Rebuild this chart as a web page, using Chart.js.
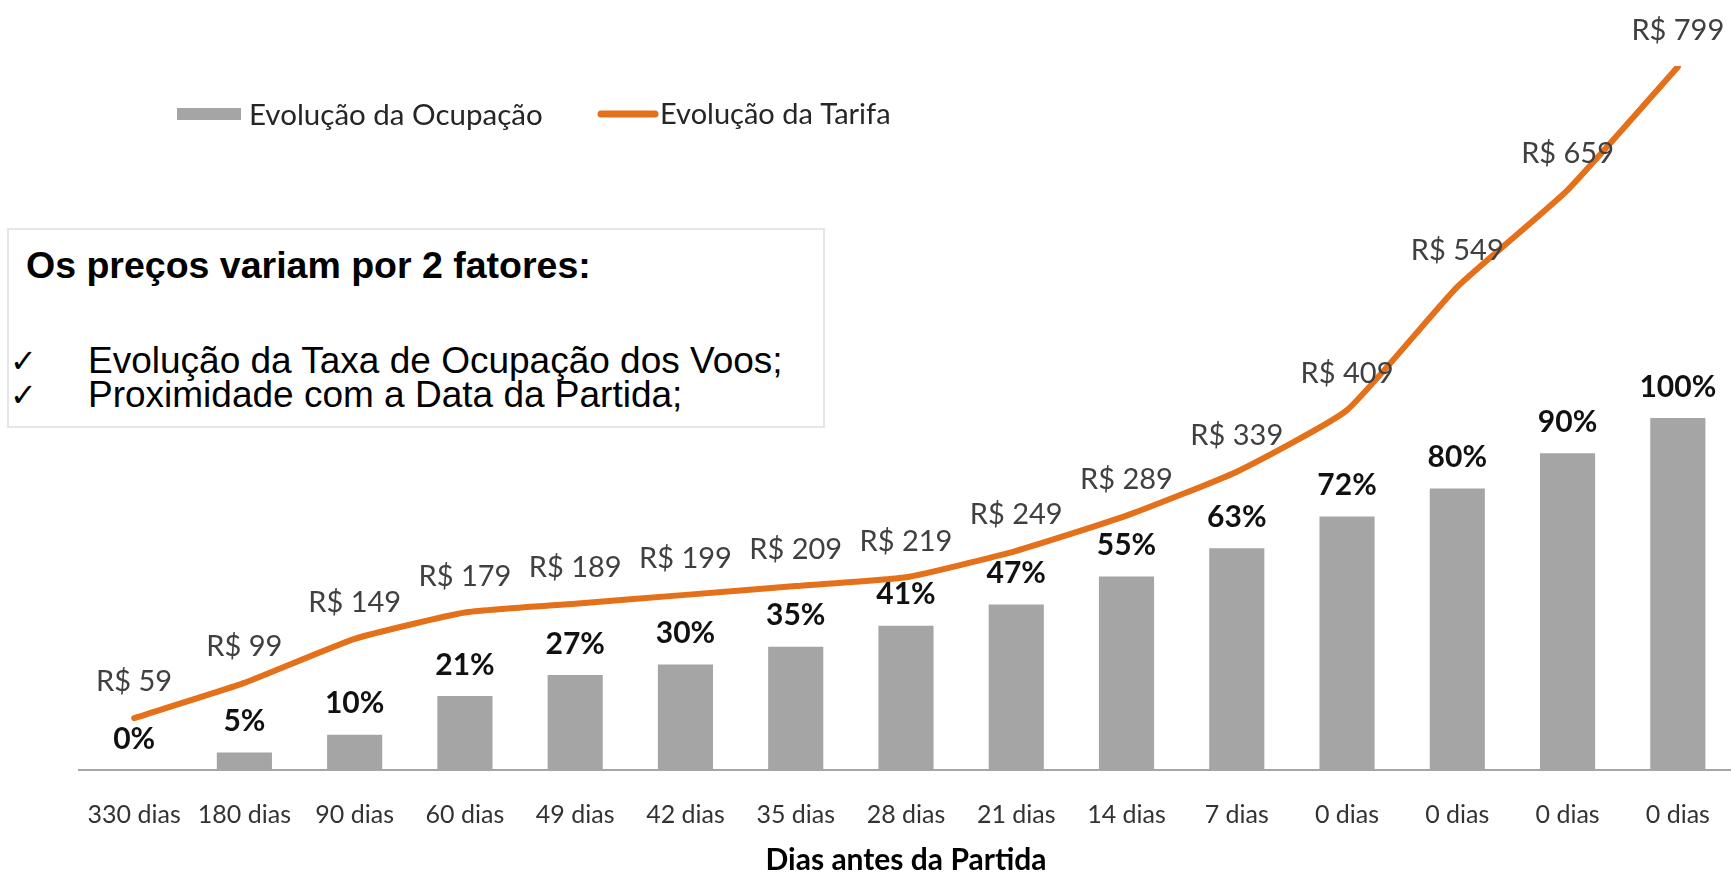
<!DOCTYPE html>
<html>
<head>
<meta charset="utf-8">
<script src="https://cdn.jsdelivr.net/npm/chart.js@4/dist/chart.umd.min.js"></script>
<style>
  html, body { margin: 0; padding: 0; background: #fff; overflow: hidden; width: 1731px; height: 875px; }
  #wrap { position: absolute; left: 0; top: 0; width: 1740px; height: 875px; }
  #note { position: absolute; left: 7px; top: 228px; width: 818px; height: 200px; box-sizing: border-box;
          border: 2px solid #e6e6e6; background: #fff; font-family: "Liberation Sans", Arial, sans-serif; color: #000; }
  #note .t { position: absolute; left: 17px; top: 17px; font-size: 37.5px; line-height: 1; font-weight: bold; white-space: nowrap; }
  #note .b { position: absolute; left: 79px; font-size: 37px; line-height: 1; white-space: nowrap; }
  #note .c { position: absolute; left: 1px; font-size: 32px; line-height: 1; font-family: "DejaVu Sans", sans-serif; }
</style>
</head>
<body>
<div id="wrap"><canvas id="c"></canvas></div>
<div id="note">
  <div class="t">Os preços variam por 2 fatores:</div>
  <div class="c" style="top:115px">✓</div>
  <div class="b" style="top:112px">Evolução da Taxa de Ocupação dos Voos;</div>
  <div class="c" style="top:149px">✓</div>
  <div class="b" style="top:146px">Proximidade com a Data da Partida;</div>
</div>
<script>
const categories = ["330 dias", "180 dias", "90 dias", "60 dias", "49 dias", "42 dias", "35 dias", "28 dias",
                    "21 dias", "14 dias", "7 dias", "0 dias", "0 dias", "0 dias", "0 dias"];
const occupancy = [0, 5, 10, 21, 27, 30, 35, 41, 47, 55, 63, 72, 80, 90, 100];
const fares = [59, 99, 149, 179, 189, 199, 209, 219, 249, 289, 339, 409, 549, 659, 799];
const occupancyLabel = "Evolução da Ocupação";
const fareLabel = "Evolução da Tarifa";
const axisTitle = "Dias antes da Partida";

const BAR_COLOR = "#A5A5A5";
const LINE_COLOR = "#E5701A";

const valueLabels = {
  id: "valueLabels",
  afterDatasetsDraw(chart) {
    const ctx = chart.ctx;
    ctx.save();
    chart.data.datasets.forEach((ds, di) => {
      const meta = chart.getDatasetMeta(di);
      meta.data.forEach((el, i) => {
        const v = ds.data[i];
        ctx.textAlign = "center";
        ctx.textBaseline = "middle";
        if (ds.type === "line") {
          ctx.font = "29px Lato";
          ctx.fillStyle = "#404040";
          ctx.fillText("R$ " + v, el.x, el.y - 36);
        } else {
          ctx.font = "bold 30px Lato";
          ctx.fillStyle = "#111";
          ctx.fillText(v + "%", el.x, el.y - 31);
        }
      });
    });
    ctx.restore();
  }
};

const customLegend = {
  id: "customLegend",
  afterDraw(chart) {
    const ctx = chart.ctx;
    const dsBar = chart.data.datasets.find(d => d.type === "bar");
    const dsLine = chart.data.datasets.find(d => d.type === "line");
    ctx.save();
    ctx.font = "29.5px Lato";
    ctx.textBaseline = "middle";
    ctx.textAlign = "left";
    ctx.fillStyle = dsBar.backgroundColor;
    ctx.fillRect(177, 108, 64, 12);
    ctx.fillStyle = "#262626";
    ctx.fillText(dsBar.label, 249, 115);
    ctx.strokeStyle = dsLine.borderColor;
    ctx.lineWidth = 7;
    ctx.lineCap = "round";
    ctx.beginPath();
    ctx.moveTo(601, 114);
    ctx.lineTo(655, 114);
    ctx.stroke();
    ctx.font = "29px Lato";
    ctx.fillText(dsLine.label, 660, 115);
    ctx.restore();
  }
};

new Chart(document.getElementById("c"), {
  data: {
    labels: categories,
    datasets: [
      {
        type: "line",
        label: fareLabel,
        data: fares,
        yAxisID: "y1",
        borderColor: LINE_COLOR,
        backgroundColor: LINE_COLOR,
        borderWidth: 6,
        tension: 0.15,
        pointRadius: 0,
        borderCapStyle: "round",
        borderJoinStyle: "round",
        order: 0
      },
      {
        type: "bar",
        label: occupancyLabel,
        data: occupancy,
        yAxisID: "y",
        backgroundColor: BAR_COLOR,
        barPercentage: 0.5,
        categoryPercentage: 1.0,
        order: 1
      }
    ]
  },
  options: {
    responsive: true,
    maintainAspectRatio: false,
    animation: false,
    layout: { padding: { left: 79, right: 3, top: 66, bottom: 0 } },
    plugins: { legend: { display: false }, tooltip: { enabled: false } },
    scales: {
      x: {
        grid: { display: false, drawTicks: false },
        border: { display: true, color: "#A6A6A6", width: 2 },
        ticks: { font: { family: "Lato", size: 25 }, color: "#333", padding: 30, maxRotation: 0, autoSkip: false },
        title: { display: true, text: axisTitle, color: "#000",
                 font: { family: "Lato", size: 30, weight: "bold" }, padding: { top: -18, bottom: -3 } }
      },
      y: { display: false, min: 0, max: 200 },
      y1: { display: false, min: 0, max: 800 }
    }
  },
  plugins: [valueLabels, customLegend]
});
</script>
</body>
</html>
